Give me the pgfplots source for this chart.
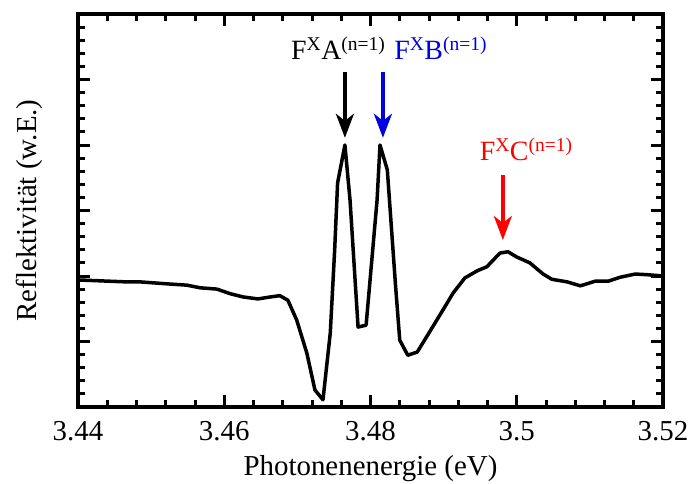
\documentclass[border=0pt]{standalone}
\usepackage{fontspec}
\setmainfont{Liberation Serif}
\usepackage{pgfplots}
\pgfplotsset{compat=1.18}
\usetikzlibrary{arrows.meta,calc}
\definecolor{peakblue}{RGB}{0,0,225}
\definecolor{peakred}{RGB}{255,0,0}

\begin{document}
\begin{tikzpicture}
\begin{axis}[
  name=ax,
  scale only axis, width=585bp, height=393bp,
  xmin=3.44, xmax=3.52, ymin=0, ymax=6,
  xtick={3.44,3.46,3.48,3.50,3.52},
  minor x tick num=4,
  ytick={0,1,2,3,4,5,6}, yticklabels={},
  minor y tick num=4,
  tick align=inside, tick pos=both,
  major tick length=12bp, minor tick length=7bp,
  every tick/.style={black, line width=3bp},
  axis line style={line width=3.5bp},
  font=\fontsize{29}{34}\selectfont,
  /pgf/number format/assume math mode=true,
  xticklabel style={font=\fontsize{29}{34}\selectfont, yshift=-11bp},
  xlabel={Photonenenergie (eV)},
  xlabel style={at={(axis description cs:0.5,0)}, anchor=base, yshift=-68bp},
  ylabel={Reflektivität (w.E.)},
  ylabel style={at={(axis description cs:-0.083,0.5)}, anchor=center},
]
\addplot[black, line width=3.5bp, line join=round] coordinates {
  (3.4400,1.94) (3.4444,1.92) (3.4467,1.91) (3.4485,1.91) (3.4522,1.88)
  (3.4549,1.86) (3.4567,1.82) (3.4590,1.80) (3.4608,1.73) (3.4626,1.68)
  (3.4646,1.65) (3.4663,1.68) (3.4676,1.70) (3.4687,1.63) (3.4699,1.33)
  (3.4713,0.82) (3.4724,0.26) (3.4735,0.11) (3.4745,1.13) (3.4751,2.40)
  (3.4755,3.42) (3.4765,4.00) (3.4772,3.16) (3.4783,1.22) (3.4794,1.25)
  (3.4809,3.16) (3.4813,4.00) (3.4823,3.62) (3.4834,1.89) (3.4840,1.02)
  (3.4851,0.79) (3.4864,0.84) (3.4881,1.15) (3.4899,1.48) (3.4913,1.74)
  (3.4929,1.97) (3.4946,2.08) (3.4959,2.14) (3.4977,2.35) (3.4988,2.37)
  (3.5000,2.29) (3.5018,2.20) (3.5036,2.03) (3.5048,1.95) (3.5069,1.91)
  (3.5087,1.85) (3.5107,1.92) (3.5125,1.92) (3.5141,1.98) (3.5162,2.03)
  (3.5178,2.02) (3.5200,2.00)
};
% peak markers
\draw[black, line width=3.5bp, -{Stealth[length=24bp,width=18bp,inset=7bp]}]
  (axis cs:3.4765,5.11) -- (axis cs:3.4765,4.11);
\draw[peakblue, line width=3.5bp, -{Stealth[length=24bp,width=18bp,inset=7bp]}]
  (axis cs:3.4817,5.11) -- (axis cs:3.4817,4.11);
\draw[peakred, line width=3.5bp, -{Stealth[length=24bp,width=18bp,inset=7bp]}]
  (axis cs:3.4981,3.54) -- (axis cs:3.4981,2.55);
\node[anchor=base, font=\fontsize{28}{30}\selectfont] at (axis cs:3.4756,5.30)
  {F\textsuperscript{X}A\textsuperscript{(n=1)}};
\node[anchor=base, text=peakblue, font=\fontsize{28}{30}\selectfont] at (axis cs:3.4896,5.30)
  {F\textsuperscript{X}B\textsuperscript{(n=1)}};
\node[anchor=base, text=peakred, font=\fontsize{28}{30}\selectfont] at (axis cs:3.5013,3.77)
  {F\textsuperscript{X}C\textsuperscript{(n=1)}};
\end{axis}
\pgfresetboundingbox
\path ($(ax.south west)+(-78bp,-76bp)$) rectangle ($(ax.north east)+(26bp,14bp)$);
\end{tikzpicture}
\end{document}
